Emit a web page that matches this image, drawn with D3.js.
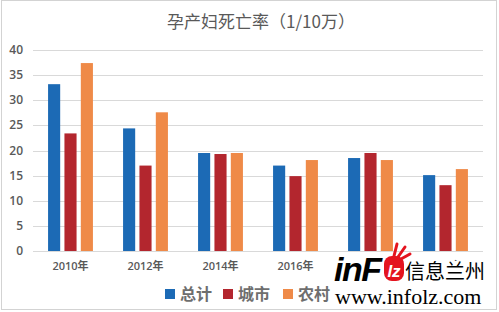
<!DOCTYPE html>
<html>
<head>
<meta charset="utf-8">
<script src="https://cdn.jsdelivr.net/npm/d3@7"></script>
<style>
  body { margin: 0; background: #fff; }
  svg { display: block; }
</style>
</head>
<body>
<script>
// Data
const years = ['2010年', '2012年', '2014年', '2016年', '2018年', '2020年'];
const seriesNames = ['总计', '城市', '农村'];
const total = [33.2, 24.4, 19.5, 17.0, 18.5, 15.1];
const urban = [23.4, 17.0, 19.3, 14.9, 19.5, 13.1];
const rural = [37.4, 27.6, 19.5, 18.1, 18.1, 16.3];
const yTicks = [0, 5, 10, 15, 20, 25, 30, 35, 40];
const colors = ['#1c6ab5', '#b3262e', '#ef8a48'];

const W = 499, H = 312;
const cjk = '"Noto Sans CJK SC", sans-serif';

const svg = d3.select('body').append('svg')
    .attr('width', W)
    .attr('height', H);

svg.append('rect')
    .attr('x', 1.5).attr('y', 0.5)
    .attr('width', W - 4).attr('height', H - 3)
    .attr('fill', '#fff')
    .attr('stroke', '#d3d3d3');

// title
svg.append('text')
    .attr('x', 261).attr('y', 28)
    .attr('text-anchor', 'middle')
    .attr('font-family', cjk)
    .attr('font-size', 17)
    .attr('fill', '#595959')
    .text('孕产妇死亡率（1/10万）');

const x0 = d3.scaleBand().domain(years).range([33, 483]);
const x1 = d3.scaleBand().domain(seriesNames)
    .range([0, x0.bandwidth()])
    .paddingInner(0.26)
    .paddingOuter(0.92);
const y = d3.scaleLinear().domain([0, 40]).range([251, 50]);

// grid
svg.append('g')
    .selectAll('line')
    .data(yTicks)
    .join('line')
    .attr('x1', 33).attr('x2', 483)
    .attr('y1', d => Math.round(y(d)) + 0.5)
    .attr('y2', d => Math.round(y(d)) + 0.5)
    .attr('stroke', '#d9d9d9');

// y axis labels
svg.append('g')
    .selectAll('text')
    .data(yTicks)
    .join('text')
    .attr('x', 23)
    .attr('y', d => y(d) + 4)
    .attr('text-anchor', 'end')
    .attr('font-family', '"Open Sans", sans-serif')
    .attr('font-weight', 600)
    .attr('font-size', 12)
    .attr('fill', '#595959')
    .text(d => d);

// bars
const rows = years.map((yr, i) => ({ year: yr, vals: [total[i], urban[i], rural[i]] }));
svg.append('g')
    .selectAll('g')
    .data(rows)
    .join('g')
    .attr('transform', d => `translate(${x0(d.year)},0)`)
    .selectAll('rect')
    .data(d => d.vals.map((v, k) => ({ name: seriesNames[k], v, k })))
    .join('rect')
    .attr('x', d => x1(d.name))
    .attr('width', x1.bandwidth())
    .attr('y', d => y(d.v))
    .attr('height', d => y(0) - y(d.v))
    .attr('fill', d => colors[d.k]);

// x labels
svg.append('g')
    .selectAll('text')
    .data(years)
    .join('text')
    .attr('x', d => x0(d) + x0.bandwidth() / 2)
    .attr('y', 270)
    .attr('text-anchor', 'middle')
    .attr('font-family', '"Open Sans", "Noto Sans CJK SC", sans-serif')
    .attr('font-weight', 600)
    .attr('font-size', 11)
    .attr('fill', '#595959')
    .text(d => d);

// legend
const legend = svg.append('g');
const legX = [165, 223, 283];
seriesNames.forEach((n, k) => {
    legend.append('rect')
        .attr('x', legX[k]).attr('y', 289)
        .attr('width', 10).attr('height', 10)
        .attr('fill', colors[k]);
    legend.append('text')
        .attr('x', legX[k] + 15).attr('y', 300)
        .attr('font-family', cjk)
        .attr('font-weight', 700)
        .attr('font-size', 16)
        .attr('fill', '#6e6e6e')
        .text(n);
});

// watermark
const wm = svg.append('g');
wm.append('rect')
    .attr('x', 333).attr('y', 261)
    .attr('width', 160).attr('height', 47)
    .attr('fill', '#fff');
wm.append('text')
    .attr('x', 334).attr('y', 281)
    .attr('font-family', '"Liberation Sans", sans-serif')
    .attr('font-weight', 900)
    .attr('font-style', 'italic')
    .attr('font-size', 34)
    .attr('letter-spacing', -1.5)
    .attr('fill', '#000')
    .text('inF');
wm.append('rect')
    .attr('x', 384).attr('y', 256)
    .attr('width', 20).attr('height', 25)
    .attr('rx', 8)
    .attr('fill', '#e4141f');
wm.append('text')
    .attr('x', 394).attr('y', 277)
    .attr('text-anchor', 'middle')
    .attr('font-family', '"Liberation Sans", sans-serif')
    .attr('font-weight', 700)
    .attr('font-style', 'italic')
    .attr('font-size', 17)
    .attr('fill', '#fff')
    .text('lz');
[[394, 256, 397, 244], [398, 257, 405, 247], [401, 259, 410, 254]].forEach(s => {
    wm.append('line')
        .attr('x1', s[0]).attr('y1', s[1]).attr('x2', s[2]).attr('y2', s[3])
        .attr('stroke', '#e4141f').attr('stroke-width', 3).attr('stroke-linecap', 'round');
});
wm.append('text')
    .attr('x', 405).attr('y', 279)
    .attr('font-family', cjk)
    .attr('font-size', 20)
    .attr('fill', '#000')
    .text('信息兰州');
wm.append('text')
    .attr('x', 335).attr('y', 304)
    .attr('font-family', '"Liberation Serif", serif')
    .attr('font-size', 22)
    .attr('fill', '#000')
    .text('www.infolz.com');
</script>
</body>
</html>
